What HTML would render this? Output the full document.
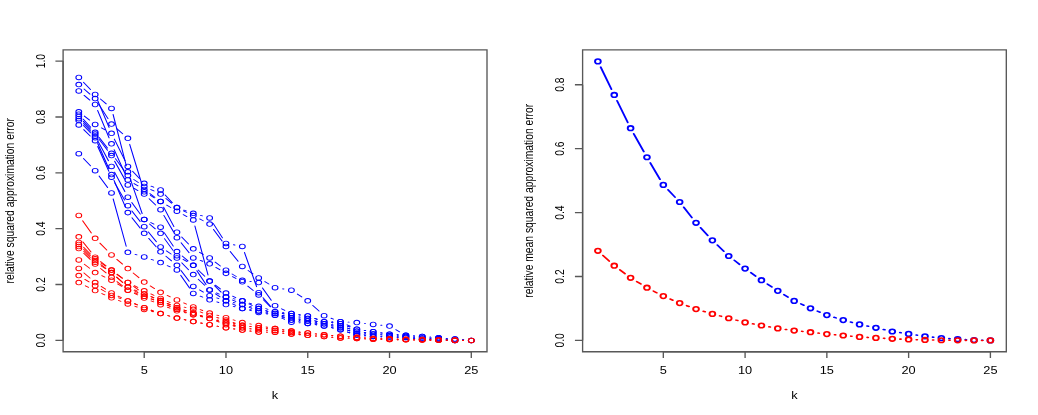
<!DOCTYPE html>
<html><head><meta charset="utf-8"><title>plot</title>
<style>
html,body{margin:0;padding:0;background:#fff;}
body{width:1038px;height:415px;overflow:hidden;}
svg{display:block;will-change:transform;}
text{font-family:"Liberation Sans",sans-serif;font-size:10px;fill:#000;}
</style></head><body>
<svg width="1038" height="415" viewBox="0 0 1038 415">
<rect width="1038" height="415" fill="#fff"/>
<g transform="scale(1.28,1.03)">
<rect x="49.3" y="48.35" width="331.17" height="293.16" fill="none" stroke="#585858" stroke-width="1.35" vector-effect="non-scaling-stroke"/>
<text x="112.67" y="362.72" text-anchor="middle">5</text>
<text x="176.55" y="362.72" text-anchor="middle">10</text>
<text x="240.43" y="362.72" text-anchor="middle">15</text>
<text x="304.32" y="362.72" text-anchor="middle">20</text>
<text x="368.2" y="362.72" text-anchor="middle">25</text>
<text transform="translate(34.9,330.49) rotate(-90)" text-anchor="middle">0.0</text>
<text transform="translate(34.9,276.25) rotate(-90)" text-anchor="middle">0.2</text>
<text transform="translate(34.9,222.02) rotate(-90)" text-anchor="middle">0.4</text>
<text transform="translate(34.9,167.79) rotate(-90)" text-anchor="middle">0.6</text>
<text transform="translate(34.9,113.55) rotate(-90)" text-anchor="middle">0.8</text>
<text transform="translate(34.9,59.32) rotate(-90)" text-anchor="middle">1.0</text>
<path d="M112.67 341.5v6M176.55 341.5v6M240.43 341.5v6M304.32 341.5v6M368.2 341.5v6M112.67 341.5H368.2M49.3 330.49h-6M49.3 276.25h-6M49.3 222.02h-6M49.3 167.79h-6M49.3 113.55h-6M49.3 59.32h-6M49.3 59.32V330.49" stroke="#585858" stroke-width="1.35" vector-effect="non-scaling-stroke" fill="none"/>
<text x="214.88" y="387.09" text-anchor="middle">k</text>
<text transform="translate(10.6,194.93) rotate(-90)" text-anchor="middle">relative squared approximation error</text>
<path d="M65.22 79.89L70.68 86.99M78.47 96.11L82.99 100.87M88.34 111.1L98.67 160.91M101.49 172.57L111.07 207.29M117.85 216.1L120.27 217.52M128.29 225.84L135.37 238.97M142.38 248.58L146.84 253.24M154.85 262.17L159.92 268.23M167.6 277.46L172.72 283.64M182.31 289.96L183.57 290.34M194.49 295.09L196.94 296.54M207.73 301.69L209.26 302.26M220.58 306.24L221.96 306.7M233.65 308.87L234.44 308.9M245.99 311.45L247.66 312.13M259.15 315.24L260.05 315.37M271.53 318.52L273.23 319.23M284.63 322.82L285.68 323.05M297.5 325.04L298.36 325.14M310.31 326.21L311.1 326.26M323.06 327.29L323.91 327.38M335.86 328.46L336.66 328.51M348.6 329.65L349.47 329.76M361.42 330.49L362.2 330.49" stroke="#0000ff" stroke-width="0.85" fill="none" stroke-linecap="round"/>
<g stroke="#0000ff" stroke-width="0.85" fill="none"><circle cx="61.56" cy="75.13" r="2.25"/><circle cx="74.34" cy="91.75" r="2.25"/><circle cx="87.12" cy="105.23" r="2.25"/><circle cx="99.89" cy="166.78" r="2.25"/><circle cx="112.67" cy="213.07" r="2.25"/><circle cx="125.45" cy="220.56" r="2.25"/><circle cx="138.22" cy="244.25" r="2.25"/><circle cx="151" cy="257.57" r="2.25"/><circle cx="163.78" cy="272.84" r="2.25"/><circle cx="176.55" cy="288.27" r="2.25"/><circle cx="189.33" cy="292.03" r="2.25"/><circle cx="202.1" cy="299.6" r="2.25"/><circle cx="214.88" cy="304.36" r="2.25"/><circle cx="227.66" cy="308.59" r="2.25"/><circle cx="240.43" cy="309.18" r="2.25"/><circle cx="253.21" cy="314.41" r="2.25"/><circle cx="265.99" cy="316.21" r="2.25"/><circle cx="278.76" cy="321.54" r="2.25"/><circle cx="291.54" cy="324.33" r="2.25"/><circle cx="304.32" cy="325.85" r="2.25"/><circle cx="317.09" cy="326.62" r="2.25"/><circle cx="329.87" cy="328.04" r="2.25"/><circle cx="342.65" cy="328.93" r="2.25"/><circle cx="355.42" cy="330.49" r="2.25"/><circle cx="368.2" cy="330.49" r="2.25"/></g>
<path d="M65.66 86.48L70.24 91.36M77.09 101.07L84.36 115.14M91.19 124.87L95.82 129.87M101.32 140.1L111.24 180.4M117.51 189.76L120.6 192.02M127.8 201.07L135.87 219.97M141.96 230.18L147.26 236.85M155.93 244.96L158.84 246.97M168.15 254.49L172.18 258.26M181.32 266.01L184.56 268.47M195.24 273.14L196.2 273.31M205.08 279.57L211.91 291.54M220.03 299.83L222.5 301.3M233.55 305.49L234.54 305.67M245.94 309.17L247.7 309.93M259.21 312.32L259.99 312.32M271.19 315.3L273.56 316.66M284.66 320.75L285.64 320.94M297.44 323.17L298.42 323.35M310.29 325L311.12 325.07M323.07 326.11L323.89 326.18M335.84 327.26L336.67 327.34M348.62 328.48L349.45 328.56M361.39 329.76L362.23 329.85" stroke="#0000ff" stroke-width="0.85" fill="none" stroke-linecap="round"/>
<g stroke="#0000ff" stroke-width="0.85" fill="none"><circle cx="61.56" cy="82.1" r="2.25"/><circle cx="74.34" cy="95.74" r="2.25"/><circle cx="87.12" cy="120.47" r="2.25"/><circle cx="99.89" cy="134.27" r="2.25"/><circle cx="112.67" cy="186.23" r="2.25"/><circle cx="125.45" cy="195.55" r="2.25"/><circle cx="138.22" cy="225.49" r="2.25"/><circle cx="151" cy="241.54" r="2.25"/><circle cx="163.78" cy="250.38" r="2.25"/><circle cx="176.55" cy="262.37" r="2.25"/><circle cx="189.33" cy="272.1" r="2.25"/><circle cx="202.1" cy="274.35" r="2.25"/><circle cx="214.88" cy="296.75" r="2.25"/><circle cx="227.66" cy="304.37" r="2.25"/><circle cx="240.43" cy="306.79" r="2.25"/><circle cx="253.21" cy="312.32" r="2.25"/><circle cx="265.99" cy="312.32" r="2.25"/><circle cx="278.76" cy="319.64" r="2.25"/><circle cx="291.54" cy="322.05" r="2.25"/><circle cx="304.32" cy="324.47" r="2.25"/><circle cx="317.09" cy="325.6" r="2.25"/><circle cx="329.87" cy="326.69" r="2.25"/><circle cx="342.65" cy="327.91" r="2.25"/><circle cx="355.42" cy="329.13" r="2.25"/><circle cx="368.2" cy="330.49" r="2.25"/></g>
<path d="M65.75 92.63L70.15 97.16M76.25 107.15L85.21 133.9M89.17 145.22L97.84 169.06M104.75 178.23L107.81 180.45M117.11 188L121 191.52M130.26 199.13L133.41 201.47M143.22 208.36L146 210.21M152.26 219.4L162.51 266.97M168.2 276.89L172.13 280.5M181.73 287.58L184.15 289M194.86 294.36L196.57 295.08M207.66 299.67L209.32 300.35M220.62 304.35L221.92 304.74M233.53 307.72L234.56 307.94M245.99 311.45L247.66 312.13M259.15 315.24L260.05 315.37M271.53 318.52L273.23 319.23M284.63 322.82L285.68 323.05M297.5 325.04L298.36 325.14M310.31 326.21L311.1 326.26M323.06 327.29L323.91 327.38M335.86 328.46L336.66 328.51M348.65 329.02L349.42 329.03M361.39 329.76L362.23 329.85" stroke="#0000ff" stroke-width="0.85" fill="none" stroke-linecap="round"/>
<g stroke="#0000ff" stroke-width="0.85" fill="none"><circle cx="61.56" cy="88.34" r="2.25"/><circle cx="74.34" cy="101.46" r="2.25"/><circle cx="87.12" cy="139.59" r="2.25"/><circle cx="99.89" cy="174.7" r="2.25"/><circle cx="112.67" cy="183.97" r="2.25"/><circle cx="125.45" cy="195.55" r="2.25"/><circle cx="138.22" cy="205.04" r="2.25"/><circle cx="151" cy="213.53" r="2.25"/><circle cx="163.78" cy="272.84" r="2.25"/><circle cx="176.55" cy="284.55" r="2.25"/><circle cx="189.33" cy="292.03" r="2.25"/><circle cx="202.1" cy="297.4" r="2.25"/><circle cx="214.88" cy="302.61" r="2.25"/><circle cx="227.66" cy="306.48" r="2.25"/><circle cx="240.43" cy="309.18" r="2.25"/><circle cx="253.21" cy="314.41" r="2.25"/><circle cx="265.99" cy="316.21" r="2.25"/><circle cx="278.76" cy="321.54" r="2.25"/><circle cx="291.54" cy="324.33" r="2.25"/><circle cx="304.32" cy="325.85" r="2.25"/><circle cx="317.09" cy="326.62" r="2.25"/><circle cx="329.87" cy="328.04" r="2.25"/><circle cx="342.65" cy="328.93" r="2.25"/><circle cx="355.42" cy="329.13" r="2.25"/></g>
<path d="M65.9 112.69L70 116.62M79.3 124.14L82.15 126.07M89.33 135.02L97.67 155.97M103.58 166.29L108.99 173.25M118.02 180.7L120.09 181.75M129.04 189.27L134.63 196.74M143.72 203.94L145.5 204.71M156.66 209.09L158.11 209.6M166.53 216.91L173.8 230.98M182.4 237.65L183.48 237.9M190.97 245.01L200.46 278.35M205.52 289.05L211.47 297.67M220.82 303.43L221.71 303.55M233.55 305.49L234.54 305.67M245.94 309.17L247.7 309.93M259.14 313.22L260.06 313.36M271.52 316.59L273.23 317.31M284.66 320.75L285.64 320.94M297.44 323.17L298.42 323.35M310.29 325L311.12 325.07M323.07 326.11L323.89 326.18M335.84 327.26L336.67 327.34M348.62 328.48L349.45 328.56" stroke="#0000ff" stroke-width="0.85" fill="none" stroke-linecap="round"/>
<g stroke="#0000ff" stroke-width="0.85" fill="none"><circle cx="61.56" cy="108.54" r="2.25"/><circle cx="74.34" cy="120.77" r="2.25"/><circle cx="87.12" cy="129.44" r="2.25"/><circle cx="99.89" cy="161.55" r="2.25"/><circle cx="112.67" cy="177.98" r="2.25"/><circle cx="125.45" cy="184.46" r="2.25"/><circle cx="138.22" cy="201.55" r="2.25"/><circle cx="151" cy="207.11" r="2.25"/><circle cx="163.78" cy="211.58" r="2.25"/><circle cx="176.55" cy="236.31" r="2.25"/><circle cx="189.33" cy="239.24" r="2.25"/><circle cx="202.1" cy="284.12" r="2.25"/><circle cx="214.88" cy="302.61" r="2.25"/><circle cx="227.66" cy="304.37" r="2.25"/><circle cx="240.43" cy="306.79" r="2.25"/><circle cx="253.21" cy="312.32" r="2.25"/><circle cx="265.99" cy="314.26" r="2.25"/><circle cx="278.76" cy="319.64" r="2.25"/><circle cx="291.54" cy="322.05" r="2.25"/><circle cx="304.32" cy="324.47" r="2.25"/><circle cx="317.09" cy="325.6" r="2.25"/><circle cx="329.87" cy="326.69" r="2.25"/><circle cx="342.65" cy="327.91" r="2.25"/></g>
<path d="M65.08 115.7L70.82 123.61M77.53 133.55L83.93 143.75M90.16 154L96.84 165.33M104.53 174.3L108.03 177.16M117.85 184L120.27 185.42M129.64 192.74L134.03 197.25M143.35 204.67L145.87 206.21M156.04 212.58L158.73 214.32M166.82 222.74L173.5 234.07M179.85 244.25L186.03 253.62M193.84 262.59L197.6 265.89M206.93 273.42L210.05 275.72M220.77 280.43L221.77 280.62M232.33 285.52L235.76 288.27M244.4 296.53L249.24 302.02M258.67 309L260.52 309.84M271.97 312.74L272.78 312.79M284.71 314.02L285.6 314.14M297.49 315.72L298.37 315.83M309.22 320.06L312.19 322.15" stroke="#0000ff" stroke-width="0.85" fill="none" stroke-linecap="round"/>
<g stroke="#0000ff" stroke-width="0.85" fill="none"><circle cx="61.56" cy="110.84" r="2.25"/><circle cx="74.34" cy="128.47" r="2.25"/><circle cx="87.12" cy="148.83" r="2.25"/><circle cx="99.89" cy="170.5" r="2.25"/><circle cx="112.67" cy="180.97" r="2.25"/><circle cx="125.45" cy="188.45" r="2.25"/><circle cx="138.22" cy="201.55" r="2.25"/><circle cx="151" cy="209.33" r="2.25"/><circle cx="163.78" cy="217.57" r="2.25"/><circle cx="176.55" cy="239.24" r="2.25"/><circle cx="189.33" cy="258.63" r="2.25"/><circle cx="202.1" cy="269.85" r="2.25"/><circle cx="214.88" cy="279.29" r="2.25"/><circle cx="227.66" cy="281.76" r="2.25"/><circle cx="240.43" cy="292.03" r="2.25"/><circle cx="253.21" cy="306.51" r="2.25"/><circle cx="265.99" cy="312.32" r="2.25"/><circle cx="278.76" cy="313.21" r="2.25"/><circle cx="291.54" cy="314.95" r="2.25"/><circle cx="304.32" cy="316.6" r="2.25"/></g>
<path d="M65.14 117.83L70.76 125.39M77.47 135.32L83.98 145.94M89.57 156.53L97.43 174.03M104.81 182.94L107.75 185.01M116.53 193.04L121.58 199.04M128 209.06L135.66 225.3M141.49 235.75L147.73 245.35M156.48 252.83L158.29 253.64M168.62 259.62L171.71 261.87M181.61 268.63L184.27 270.32M193.58 277.78L197.86 282.05M205.8 291.01L211.18 297.88M220.62 304.35L221.92 304.74M233.66 306.62L234.44 306.64M259.14 313.22L260.06 313.36M271.52 316.59L273.23 317.31" stroke="#0000ff" stroke-width="0.85" fill="none" stroke-linecap="round"/>
<g stroke="#0000ff" stroke-width="0.85" fill="none"><circle cx="61.56" cy="113.01" r="2.25"/><circle cx="74.34" cy="130.2" r="2.25"/><circle cx="87.12" cy="151.06" r="2.25"/><circle cx="99.89" cy="179.5" r="2.25"/><circle cx="112.67" cy="188.45" r="2.25"/><circle cx="125.45" cy="203.63" r="2.25"/><circle cx="138.22" cy="230.72" r="2.25"/><circle cx="151" cy="250.38" r="2.25"/><circle cx="163.78" cy="256.08" r="2.25"/><circle cx="176.55" cy="265.41" r="2.25"/><circle cx="189.33" cy="273.54" r="2.25"/><circle cx="202.1" cy="286.29" r="2.25"/><circle cx="227.66" cy="306.48" r="2.25"/><circle cx="265.99" cy="314.26" r="2.25"/></g>
<path d="M65.19 119.96L70.71 127.22M76.72 137.5L84.73 156.04M89.47 167.07L97.54 185.94M102.95 196.62L109.62 207.91M116.8 217.42L121.31 222.17M128.49 231.69L135.18 243.07M143.07 251.78L146.15 254.03M153.82 262.86L160.95 276.22M169.08 284.32L171.25 285.46M181.73 291.29L184.15 292.7M195.07 297.46L196.36 297.86M207.73 301.69L209.26 302.26M220.58 306.24L221.96 306.7M233.5 309.95L234.59 310.21M246.29 312.87L247.35 313.11M258.97 316.09L260.23 316.46M271.53 320.45L273.22 321.14M284.75 323.85L285.56 323.91M348.6 329.65L349.47 329.76M361.42 330.49L362.2 330.49" stroke="#0000ff" stroke-width="0.85" fill="none" stroke-linecap="round"/>
<g stroke="#0000ff" stroke-width="0.85" fill="none"><circle cx="61.56" cy="115.18" r="2.25"/><circle cx="74.34" cy="131.99" r="2.25"/><circle cx="87.12" cy="161.55" r="2.25"/><circle cx="99.89" cy="191.46" r="2.25"/><circle cx="112.67" cy="213.07" r="2.25"/><circle cx="125.45" cy="226.52" r="2.25"/><circle cx="138.22" cy="248.24" r="2.25"/><circle cx="151" cy="257.57" r="2.25"/><circle cx="163.78" cy="281.51" r="2.25"/><circle cx="176.55" cy="288.27" r="2.25"/><circle cx="189.33" cy="295.72" r="2.25"/><circle cx="202.1" cy="299.6" r="2.25"/><circle cx="214.88" cy="304.36" r="2.25"/><circle cx="227.66" cy="308.59" r="2.25"/><circle cx="240.43" cy="311.58" r="2.25"/><circle cx="265.99" cy="318.15" r="2.25"/><circle cx="278.76" cy="323.44" r="2.25"/><circle cx="355.42" cy="330.49" r="2.25"/></g>
<path d="M65.22 121.83L70.68 128.92M76.35 139.33L85.1 163.84M89.08 175.17L97.93 200.76M103.11 211.49L109.45 221.46M116.14 231.41L121.97 239.63M129.64 248.81L134.02 253.28M141.4 262.66L147.82 272.98M155.9 281.53L158.88 283.64M169.37 289.26L170.95 289.87M181.73 295.07L184.15 296.49M195.23 300.6L196.2 300.77M207.8 303.75L209.19 304.21M220.53 308.14L222.01 308.67M233.47 312.19L234.62 312.48M246.32 315.13L247.32 315.33M258.99 318.12L260.21 318.47M271.54 322.37L273.21 323.06M284.73 325.93L285.57 326.01M297.53 326.9L298.32 326.94M310.31 327.42L311.1 327.45M323.04 328.46L323.93 328.58M335.86 329.66L336.65 329.69M348.64 330.2L349.43 330.23" stroke="#0000ff" stroke-width="0.85" fill="none" stroke-linecap="round"/>
<g stroke="#0000ff" stroke-width="0.85" fill="none"><circle cx="61.56" cy="117.08" r="2.25"/><circle cx="74.34" cy="133.67" r="2.25"/><circle cx="87.12" cy="169.49" r="2.25"/><circle cx="99.89" cy="206.43" r="2.25"/><circle cx="112.67" cy="226.52" r="2.25"/><circle cx="125.45" cy="244.53" r="2.25"/><circle cx="138.22" cy="257.57" r="2.25"/><circle cx="151" cy="278.07" r="2.25"/><circle cx="163.78" cy="287.1" r="2.25"/><circle cx="176.55" cy="292.03" r="2.25"/><circle cx="189.33" cy="299.52" r="2.25"/><circle cx="202.1" cy="301.85" r="2.25"/><circle cx="214.88" cy="306.11" r="2.25"/><circle cx="227.66" cy="310.7" r="2.25"/><circle cx="240.43" cy="313.97" r="2.25"/><circle cx="253.21" cy="316.49" r="2.25"/><circle cx="265.99" cy="320.1" r="2.25"/><circle cx="278.76" cy="325.33" r="2.25"/><circle cx="291.54" cy="326.61" r="2.25"/><circle cx="304.32" cy="327.23" r="2.25"/><circle cx="317.09" cy="327.64" r="2.25"/><circle cx="329.87" cy="329.4" r="2.25"/><circle cx="342.65" cy="329.94" r="2.25"/></g>
<path d="M65.4 125.87L70.5 131.99M76.37 142.25L85.08 166.4M89.63 177.49L97.38 194.26M103.07 204.79L109.49 215.03M115.95 225.15L122.17 234.67M130.03 243.57L133.64 246.62M141.95 255.19L147.27 261.9M154.9 271.16L159.87 276.96M168.41 285.33L171.92 288.22M182.32 293.7L183.56 294.06M194.74 298.32L196.69 299.26M207.99 303.01L208.99 303.2M220.26 307.03L222.28 308.03M233.64 311.11L234.45 311.16M246.03 313.73L247.61 314.34M259.16 317.27L260.04 317.38M271.53 320.45L273.22 321.14M284.59 324.88L285.72 325.16M297.53 326.9L298.32 326.94M310.31 327.42L311.1 327.45M323.04 328.46L323.93 328.58M335.86 329.66L336.65 329.69M348.64 330.2L349.43 330.23" stroke="#0000ff" stroke-width="0.85" fill="none" stroke-linecap="round"/>
<g stroke="#0000ff" stroke-width="0.85" fill="none"><circle cx="61.56" cy="121.25" r="2.25"/><circle cx="74.34" cy="136.6" r="2.25"/><circle cx="87.12" cy="172.04" r="2.25"/><circle cx="99.89" cy="199.7" r="2.25"/><circle cx="112.67" cy="220.12" r="2.25"/><circle cx="125.45" cy="239.7" r="2.25"/><circle cx="138.22" cy="250.49" r="2.25"/><circle cx="151" cy="266.6" r="2.25"/><circle cx="163.78" cy="281.51" r="2.25"/><circle cx="176.55" cy="292.03" r="2.25"/><circle cx="189.33" cy="295.72" r="2.25"/><circle cx="202.1" cy="301.85" r="2.25"/><circle cx="227.66" cy="310.7" r="2.25"/><circle cx="240.43" cy="311.58" r="2.25"/><circle cx="253.21" cy="316.49" r="2.25"/><circle cx="265.99" cy="318.15" r="2.25"/><circle cx="278.76" cy="323.44" r="2.25"/><circle cx="291.54" cy="326.61" r="2.25"/><circle cx="304.32" cy="327.23" r="2.25"/><circle cx="317.09" cy="327.64" r="2.25"/><circle cx="329.87" cy="329.4" r="2.25"/><circle cx="342.65" cy="329.94" r="2.25"/></g>
<path d="M65.23 153.96L70.67 160.98M77.4 170.89L84.06 182.12M88.41 193.14L98.59 239.1M105.56 246.93L107 247.43M118.17 251.8L119.94 252.57M130.69 257.87L132.97 259.14M141.15 267.28L148.07 279.61M156.39 287.48L158.38 288.45M169.42 293.13L170.91 293.68M182.3 297.43L183.58 297.81M195.07 301.25L196.36 301.64M207.97 304.63L209.01 304.85M220.2 308.89L222.34 310.02M233.63 313.35L234.46 313.43M246.32 315.13L247.32 315.33M258.99 318.12L260.21 318.47M271.54 322.37L273.21 323.06M284.73 325.93L285.57 326.01" stroke="#0000ff" stroke-width="0.85" fill="none" stroke-linecap="round"/>
<g stroke="#0000ff" stroke-width="0.85" fill="none"><circle cx="61.56" cy="149.21" r="2.25"/><circle cx="74.34" cy="165.73" r="2.25"/><circle cx="87.12" cy="187.28" r="2.25"/><circle cx="99.89" cy="244.96" r="2.25"/><circle cx="112.67" cy="249.41" r="2.25"/><circle cx="125.45" cy="254.97" r="2.25"/><circle cx="138.22" cy="262.04" r="2.25"/><circle cx="151" cy="284.85" r="2.25"/><circle cx="163.78" cy="291.09" r="2.25"/><circle cx="176.55" cy="295.72" r="2.25"/><circle cx="189.33" cy="299.52" r="2.25"/><circle cx="202.1" cy="303.37" r="2.25"/><circle cx="214.88" cy="306.11" r="2.25"/><circle cx="227.66" cy="312.81" r="2.25"/><circle cx="240.43" cy="313.97" r="2.25"/><circle cx="265.99" cy="320.1" r="2.25"/><circle cx="278.76" cy="325.33" r="2.25"/></g>
<path d="M76.27 97.43L85.19 123.76" stroke="#0000ff" stroke-width="0.85" fill="none" stroke-linecap="round"/>
<path d="M64.55 214.34L71.35 226.15M78.06 236.05L83.39 242.8M91.29 251.82L95.72 256.38M104.06 265L108.5 269.58M117.4 277.58L120.71 280.16M130.64 286.85L133.03 288.24M143.52 294.07L145.7 295.23M156.44 300.58L158.33 301.46M169.44 305.96L170.89 306.47M182.18 310.51L183.7 311.06M195.17 314.49L196.26 314.75M207.95 317.45L209.03 317.7M220.78 320.16L221.76 320.34M233.6 322.31L234.5 322.44M246.38 324.12L247.27 324.24M259.18 325.7L260.02 325.78M271.97 326.93L272.79 327M284.74 328.01L285.56 328.08M297.54 328.78L298.32 328.8M310.31 329.18L311.1 329.21M323.09 329.53L323.87 329.54M335.87 329.8L336.65 329.82M348.65 330.07L349.42 330.09M361.42 330.34L362.2 330.36" stroke="#ff0000" stroke-width="0.85" fill="none" stroke-linecap="round"/>
<g stroke="#ff0000" stroke-width="0.85" fill="none"><circle cx="61.56" cy="209.14" r="2.25"/><circle cx="74.34" cy="231.35" r="2.25"/><circle cx="87.12" cy="247.51" r="2.25"/><circle cx="99.89" cy="260.69" r="2.25"/><circle cx="112.67" cy="273.89" r="2.25"/><circle cx="125.45" cy="283.85" r="2.25"/><circle cx="138.22" cy="291.25" r="2.25"/><circle cx="151" cy="298.05" r="2.25"/><circle cx="163.78" cy="303.99" r="2.25"/><circle cx="176.55" cy="308.44" r="2.25"/><circle cx="189.33" cy="313.13" r="2.25"/><circle cx="202.1" cy="316.11" r="2.25"/><circle cx="214.88" cy="319.04" r="2.25"/><circle cx="227.66" cy="321.46" r="2.25"/><circle cx="240.43" cy="323.3" r="2.25"/><circle cx="253.21" cy="325.06" r="2.25"/><circle cx="265.99" cy="326.42" r="2.25"/><circle cx="278.76" cy="327.5" r="2.25"/><circle cx="291.54" cy="328.59" r="2.25"/><circle cx="304.32" cy="328.99" r="2.25"/><circle cx="317.09" cy="329.4" r="2.25"/><circle cx="329.87" cy="329.67" r="2.25"/><circle cx="342.65" cy="329.94" r="2.25"/><circle cx="355.42" cy="330.21" r="2.25"/><circle cx="368.2" cy="330.49" r="2.25"/></g>
<path d="M64.82 234.92L71.09 244.64M78.62 253.88L82.84 258.03M91.5 266.33L95.51 270.07M104.95 277.39L107.61 279.1M117.85 285.36L120.27 286.78M130.76 292.6L132.91 293.72M143.97 298.22L145.25 298.6M156.44 302.82L158.33 303.7M169.43 308.23L170.9 308.76M182.13 312.99L183.75 313.63M195.22 316.97L196.21 317.16M208.09 318.64L208.89 318.69M220.78 320.16L221.76 320.34M233.6 322.31L234.5 322.44M246.38 324.12L247.27 324.24M259.18 325.7L260.02 325.78M271.97 326.93L272.79 327M284.74 328.01L285.56 328.08M297.54 328.78L298.32 328.8M310.31 329.18L311.1 329.21M323.09 329.53L323.87 329.54M335.87 329.8L336.65 329.82M348.65 330.07L349.42 330.09M361.42 330.34L362.2 330.36" stroke="#ff0000" stroke-width="0.85" fill="none" stroke-linecap="round"/>
<g stroke="#ff0000" stroke-width="0.85" fill="none"><circle cx="61.56" cy="229.88" r="2.25"/><circle cx="74.34" cy="249.68" r="2.25"/><circle cx="87.12" cy="262.23" r="2.25"/><circle cx="99.89" cy="274.16" r="2.25"/><circle cx="112.67" cy="282.33" r="2.25"/><circle cx="125.45" cy="289.81" r="2.25"/><circle cx="138.22" cy="296.51" r="2.25"/><circle cx="151" cy="300.3" r="2.25"/><circle cx="163.78" cy="306.22" r="2.25"/><circle cx="176.55" cy="310.77" r="2.25"/><circle cx="189.33" cy="315.84" r="2.25"/><circle cx="202.1" cy="318.28" r="2.25"/><circle cx="214.88" cy="319.04" r="2.25"/><circle cx="227.66" cy="321.46" r="2.25"/><circle cx="240.43" cy="323.3" r="2.25"/><circle cx="253.21" cy="325.06" r="2.25"/><circle cx="265.99" cy="326.42" r="2.25"/><circle cx="278.76" cy="327.5" r="2.25"/><circle cx="291.54" cy="328.59" r="2.25"/><circle cx="304.32" cy="328.99" r="2.25"/><circle cx="317.09" cy="329.4" r="2.25"/><circle cx="329.87" cy="329.67" r="2.25"/><circle cx="342.65" cy="329.94" r="2.25"/><circle cx="355.42" cy="330.21" r="2.25"/><circle cx="368.2" cy="330.49" r="2.25"/></g>
<path d="M65.33 240.11L70.58 246.63M78.9 255.21L82.56 258.33M91.5 266.33L95.51 270.07M104.41 278.11L108.15 281.39M118.03 288.03L120.09 289.07M130.71 294.64L132.96 295.88M143.77 301.03L145.45 301.72M156.55 306.27L158.22 306.95M169.62 310.6L170.71 310.86M182.33 313.87L183.55 314.21M195.22 316.97L196.21 317.16M208.09 318.64L208.89 318.69" stroke="#ff0000" stroke-width="0.85" fill="none" stroke-linecap="round"/>
<g stroke="#ff0000" stroke-width="0.85" fill="none"><circle cx="61.56" cy="235.44" r="2.25"/><circle cx="74.34" cy="251.31" r="2.25"/><circle cx="87.12" cy="262.23" r="2.25"/><circle cx="99.89" cy="274.16" r="2.25"/><circle cx="112.67" cy="285.34" r="2.25"/><circle cx="125.45" cy="291.76" r="2.25"/><circle cx="138.22" cy="298.76" r="2.25"/><circle cx="151" cy="303.99" r="2.25"/><circle cx="163.78" cy="309.23" r="2.25"/><circle cx="176.55" cy="312.24" r="2.25"/><circle cx="189.33" cy="315.84" r="2.25"/><circle cx="202.1" cy="318.28" r="2.25"/></g>
<path d="M65.37 242.01L70.53 248.29M78.77 256.98L82.68 260.55M91.14 269.04L95.86 274.25M105.22 281.46L107.35 282.57M118.03 288.03L120.09 289.07M130.71 294.64L132.96 295.88M143.77 301.03L145.45 301.72M156.55 306.27L158.22 306.95M169.44 311.2L170.89 311.7M182.47 314.68L183.41 314.84" stroke="#ff0000" stroke-width="0.85" fill="none" stroke-linecap="round"/>
<g stroke="#ff0000" stroke-width="0.85" fill="none"><circle cx="61.56" cy="237.37" r="2.25"/><circle cx="74.34" cy="252.93" r="2.25"/><circle cx="87.12" cy="264.59" r="2.25"/><circle cx="99.89" cy="278.69" r="2.25"/><circle cx="112.67" cy="285.34" r="2.25"/><circle cx="125.45" cy="291.76" r="2.25"/><circle cx="138.22" cy="298.76" r="2.25"/><circle cx="151" cy="303.99" r="2.25"/><circle cx="163.78" cy="309.23" r="2.25"/><circle cx="176.55" cy="313.67" r="2.25"/></g>
<path d="M65.42 243.92L70.48 249.96M79.06 258.26L82.4 260.89M91.14 269.04L95.86 274.25M104.81 282.13L107.75 284.2M118.12 290.14L119.99 291M130.74 296.32L132.93 297.48M143.77 302.58L145.45 303.26M156.76 307.2L158.01 307.56M169.44 311.2L170.89 311.7M182.2 315.71L183.68 316.25M195.26 319.16L196.17 319.3M208.1 320.47L208.89 320.51M220.8 321.77L221.74 321.93M233.65 323.09L234.44 323.12" stroke="#ff0000" stroke-width="0.85" fill="none" stroke-linecap="round"/>
<g stroke="#ff0000" stroke-width="0.85" fill="none"><circle cx="61.56" cy="239.32" r="2.25"/><circle cx="74.34" cy="254.56" r="2.25"/><circle cx="87.12" cy="264.59" r="2.25"/><circle cx="99.89" cy="278.69" r="2.25"/><circle cx="112.67" cy="287.64" r="2.25"/><circle cx="125.45" cy="293.5" r="2.25"/><circle cx="138.22" cy="300.3" r="2.25"/><circle cx="151" cy="305.54" r="2.25"/><circle cx="176.55" cy="313.67" r="2.25"/><circle cx="189.33" cy="318.28" r="2.25"/><circle cx="202.1" cy="320.18" r="2.25"/><circle cx="214.88" cy="320.79" r="2.25"/><circle cx="227.66" cy="322.91" r="2.25"/></g>
<path d="M65.43 245.86L70.47 251.82M78.58 260.65L82.88 264.96M91.41 273.39L95.6 277.48M105.33 284.21L107.23 285.1M118.12 290.14L119.99 291M130.74 296.32L132.93 297.48M143.77 302.58L145.45 303.26M156.76 307.2L158.01 307.56M182.2 315.71L183.68 316.25M195.26 319.16L196.17 319.3M208.1 320.47L208.89 320.51M220.8 321.77L221.74 321.93M233.53 324.15L234.56 324.36M246.41 326.16L247.24 326.24M259.18 327.38L260.02 327.46M271.98 328.3L272.77 328.33M284.75 328.97L285.55 329.02M297.54 329.53L298.32 329.54M310.32 329.8L311.1 329.82M323.09 330.07L323.87 330.09M335.87 330.28L336.65 330.29M348.65 330.41L349.42 330.42M361.42 330.49L362.2 330.49" stroke="#ff0000" stroke-width="0.85" fill="none" stroke-linecap="round"/>
<g stroke="#ff0000" stroke-width="0.85" fill="none"><circle cx="61.56" cy="241.27" r="2.25"/><circle cx="74.34" cy="256.4" r="2.25"/><circle cx="87.12" cy="269.2" r="2.25"/><circle cx="99.89" cy="281.68" r="2.25"/><circle cx="112.67" cy="287.64" r="2.25"/><circle cx="125.45" cy="293.5" r="2.25"/><circle cx="138.22" cy="300.3" r="2.25"/><circle cx="151" cy="305.54" r="2.25"/><circle cx="189.33" cy="318.28" r="2.25"/><circle cx="202.1" cy="320.18" r="2.25"/><circle cx="214.88" cy="320.79" r="2.25"/><circle cx="227.66" cy="322.91" r="2.25"/><circle cx="240.43" cy="325.6" r="2.25"/><circle cx="253.21" cy="326.8" r="2.25"/><circle cx="265.99" cy="328.04" r="2.25"/><circle cx="278.76" cy="328.59" r="2.25"/><circle cx="291.54" cy="329.4" r="2.25"/><circle cx="304.32" cy="329.67" r="2.25"/><circle cx="317.09" cy="329.94" r="2.25"/><circle cx="329.87" cy="330.21" r="2.25"/><circle cx="342.65" cy="330.35" r="2.25"/><circle cx="355.42" cy="330.49" r="2.25"/></g>
<path d="M65.91 256.53L70 260.43M79.52 267.59L81.93 269M91.9 275.64L95.1 278.06M105.03 284.78L107.53 286.3M118.04 292.08L120.08 293.1M130.88 298.31L132.79 299.2M143.97 303.45L145.25 303.83M169.2 311.78L171.12 312.69M182.39 316.63L183.49 316.9M233.53 324.15L234.56 324.36M246.41 326.16L247.24 326.24M259.18 327.38L260.02 327.46M271.98 328.3L272.77 328.33M284.75 328.97L285.55 329.02M297.54 329.53L298.32 329.54M310.32 329.8L311.1 329.82M323.09 330.07L323.87 330.09M335.87 330.28L336.65 330.29M348.65 330.41L349.42 330.42M361.42 330.49L362.2 330.49" stroke="#ff0000" stroke-width="0.85" fill="none" stroke-linecap="round"/>
<g stroke="#ff0000" stroke-width="0.85" fill="none"><circle cx="61.56" cy="252.39" r="2.25"/><circle cx="74.34" cy="264.57" r="2.25"/><circle cx="87.12" cy="272.02" r="2.25"/><circle cx="99.89" cy="281.68" r="2.25"/><circle cx="112.67" cy="289.4" r="2.25"/><circle cx="125.45" cy="295.78" r="2.25"/><circle cx="138.22" cy="301.74" r="2.25"/><circle cx="176.55" cy="315.25" r="2.25"/><circle cx="240.43" cy="325.6" r="2.25"/><circle cx="253.21" cy="326.8" r="2.25"/><circle cx="265.99" cy="328.04" r="2.25"/><circle cx="278.76" cy="328.59" r="2.25"/><circle cx="291.54" cy="329.4" r="2.25"/><circle cx="304.32" cy="329.67" r="2.25"/><circle cx="317.09" cy="329.94" r="2.25"/><circle cx="329.87" cy="330.21" r="2.25"/><circle cx="342.65" cy="330.35" r="2.25"/><circle cx="355.42" cy="330.49" r="2.25"/></g>
<path d="M65.64 264.98L70.26 269.96M79.04 278.08L82.41 280.74M92.26 287.56L94.75 289.05M105.22 294.9L107.34 296M118.15 301.2L119.96 302.01M131.13 306.38L132.54 306.86M144.02 310.35L145.21 310.67M156.84 313.61L157.93 313.87M169.62 316.62L170.71 316.88M182.46 319.27L183.41 319.44M195.26 321.33L196.17 321.47M208.1 322.44L208.88 322.45M220.82 323.38L221.72 323.51M233.63 324.94L234.46 325.02" stroke="#ff0000" stroke-width="0.85" fill="none" stroke-linecap="round"/>
<g stroke="#ff0000" stroke-width="0.85" fill="none"><circle cx="61.56" cy="260.58" r="2.25"/><circle cx="74.34" cy="274.35" r="2.25"/><circle cx="87.12" cy="284.47" r="2.25"/><circle cx="99.89" cy="292.14" r="2.25"/><circle cx="112.67" cy="298.76" r="2.25"/><circle cx="125.45" cy="304.45" r="2.25"/><circle cx="138.22" cy="308.79" r="2.25"/><circle cx="151" cy="312.24" r="2.25"/><circle cx="163.78" cy="315.25" r="2.25"/><circle cx="176.55" cy="318.26" r="2.25"/><circle cx="189.33" cy="320.45" r="2.25"/><circle cx="202.1" cy="322.35" r="2.25"/><circle cx="214.88" cy="322.54" r="2.25"/><circle cx="227.66" cy="324.36" r="2.25"/></g>
<path d="M66.33 271.22L69.57 273.69M79.16 280.91L82.3 283.25M92.66 289.13L94.35 289.84M105.22 294.9L107.34 296M118.15 301.2L119.96 302.01M131.13 306.38L132.54 306.86M144.02 310.35L145.21 310.67M156.84 313.61L157.93 313.87M169.62 316.62L170.71 316.88M182.46 319.27L183.41 319.44M195.26 321.33L196.17 321.47M208.1 322.44L208.88 322.45M220.82 323.38L221.72 323.51M233.63 324.94L234.46 325.02" stroke="#ff0000" stroke-width="0.85" fill="none" stroke-linecap="round"/>
<g stroke="#ff0000" stroke-width="0.85" fill="none"><circle cx="61.56" cy="267.58" r="2.25"/><circle cx="74.34" cy="277.34" r="2.25"/><circle cx="87.12" cy="286.83" r="2.25"/><circle cx="99.89" cy="292.14" r="2.25"/><circle cx="112.67" cy="298.76" r="2.25"/><circle cx="125.45" cy="304.45" r="2.25"/><circle cx="138.22" cy="308.79" r="2.25"/><circle cx="151" cy="312.24" r="2.25"/><circle cx="163.78" cy="315.25" r="2.25"/><circle cx="176.55" cy="318.26" r="2.25"/><circle cx="189.33" cy="320.45" r="2.25"/><circle cx="202.1" cy="322.35" r="2.25"/><circle cx="214.88" cy="322.54" r="2.25"/><circle cx="227.66" cy="324.36" r="2.25"/></g>
<path d="M66.7 277.45L69.2 278.96M79.59 284.96L81.87 286.23M92.56 291.65L94.45 292.52M105.43 297.36L107.13 298.07M118.39 302.21L119.73 302.63" stroke="#ff0000" stroke-width="0.85" fill="none" stroke-linecap="round"/>
<g stroke="#ff0000" stroke-width="0.85" fill="none"><circle cx="61.56" cy="274.35" r="2.25"/><circle cx="74.34" cy="282.06" r="2.25"/><circle cx="87.12" cy="289.13" r="2.25"/><circle cx="99.89" cy="295.04" r="2.25"/><circle cx="112.67" cy="300.39" r="2.25"/></g>
<rect x="455.16" y="48.35" width="331.02" height="293.16" fill="none" stroke="#585858" stroke-width="1.35" vector-effect="non-scaling-stroke"/>
<text x="518.22" y="362.72" text-anchor="middle">5</text>
<text x="582.1" y="362.72" text-anchor="middle">10</text>
<text x="645.98" y="362.72" text-anchor="middle">15</text>
<text x="709.86" y="362.72" text-anchor="middle">20</text>
<text x="773.75" y="362.72" text-anchor="middle">25</text>
<text transform="translate(440.76,330.49) rotate(-90)" text-anchor="middle">0.0</text>
<text transform="translate(440.76,268.43) rotate(-90)" text-anchor="middle">0.2</text>
<text transform="translate(440.76,206.37) rotate(-90)" text-anchor="middle">0.4</text>
<text transform="translate(440.76,144.31) rotate(-90)" text-anchor="middle">0.6</text>
<text transform="translate(440.76,82.25) rotate(-90)" text-anchor="middle">0.8</text>
<path d="M518.22 341.5v6M582.1 341.5v6M645.98 341.5v6M709.86 341.5v6M773.75 341.5v6M518.22 341.5H773.75M455.16 330.49h-6M455.16 268.43h-6M455.16 206.37h-6M455.16 144.31h-6M455.16 82.25h-6M455.16 82.25V330.49" stroke="#585858" stroke-width="1.35" vector-effect="non-scaling-stroke" fill="none"/>
<text x="620.66" y="387.09" text-anchor="middle">k</text>
<text transform="translate(416.46,194.93) rotate(-90)" text-anchor="middle">relative mean squared approximation error</text>
<path d="M469.3 65.19L477.7 86.6M482.09 97.76L490.45 118.87M495.14 129.92L502.97 147.22M508.02 158.1L515.63 174.08M521.87 184.26L527.34 191.37M534.2 201.2L540.56 211.23M547.36 221.1L552.95 228.56M560.41 237.96L565.46 243.98M573.66 252.71L577.76 256.62M586.6 264.73L590.37 268.06M599.53 275.81L602.99 278.61M612.42 286.03L615.66 288.5M625.66 295.08L627.98 296.39M638.54 302.08L640.65 303.16M651.59 308.05L653.15 308.64M664.46 312.65L665.83 313.1M677.34 316.47L678.5 316.76M690.09 319.87L691.31 320.21M702.99 322.92L703.96 323.1M715.77 325.26L716.74 325.44M728.59 327.32L729.47 327.44M741.4 328.75L742.21 328.81M754.18 329.71L754.98 329.77M766.97 330.32L767.75 330.34" stroke="#0000ff" stroke-width="1.5" fill="none" stroke-linecap="round"/>
<g stroke="#0000ff" stroke-width="1.5" fill="none"><circle cx="467.11" cy="59.6" r="2.25"/><circle cx="479.89" cy="92.18" r="2.25"/><circle cx="492.66" cy="124.45" r="2.25"/><circle cx="505.44" cy="152.69" r="2.25"/><circle cx="518.22" cy="179.5" r="2.25"/><circle cx="530.99" cy="196.13" r="2.25"/><circle cx="543.77" cy="216.3" r="2.25"/><circle cx="556.55" cy="233.36" r="2.25"/><circle cx="569.32" cy="248.57" r="2.25"/><circle cx="582.1" cy="260.76" r="2.25"/><circle cx="594.87" cy="272.03" r="2.25"/><circle cx="607.65" cy="282.39" r="2.25"/><circle cx="620.43" cy="292.13" r="2.25"/><circle cx="633.2" cy="299.33" r="2.25"/><circle cx="645.98" cy="305.91" r="2.25"/><circle cx="658.76" cy="310.78" r="2.25"/><circle cx="671.53" cy="314.97" r="2.25"/><circle cx="684.31" cy="318.26" r="2.25"/><circle cx="697.09" cy="321.83" r="2.25"/><circle cx="709.86" cy="324.19" r="2.25"/><circle cx="722.64" cy="326.51" r="2.25"/><circle cx="735.42" cy="328.25" r="2.25"/><circle cx="748.19" cy="329.31" r="2.25"/><circle cx="760.97" cy="330.18" r="2.25"/><circle cx="773.75" cy="330.49" r="2.25"/></g>
<path d="M471.08 248.01L475.91 253.47M484.31 262.03L488.24 265.64M497.46 273.31L500.65 275.71M510.5 282.55L513.16 284.25M523.51 290.3L525.69 291.46M536.45 296.77L538.31 297.62M549.41 302.16L550.91 302.71M562.24 306.66L563.63 307.12M575.05 310.81L576.37 311.22M587.94 314.39L589.03 314.65M600.73 317.32L601.79 317.55M613.57 319.83L614.51 319.98M626.38 321.68L627.25 321.79M639.14 323.38L640.04 323.51M651.95 325.01L652.79 325.1M664.73 326.36L665.57 326.45M677.52 327.54L678.33 327.6M690.3 328.47L691.1 328.53M703.08 329.23L703.87 329.26M715.86 329.77L716.64 329.8M728.64 330.17L729.42 330.18M741.42 330.36L742.19 330.36M754.19 330.44L754.97 330.44M766.97 330.49L767.75 330.49" stroke="#ff0000" stroke-width="1.5" fill="none" stroke-linecap="round"/>
<g stroke="#ff0000" stroke-width="1.5" fill="none"><circle cx="467.11" cy="243.51" r="2.25"/><circle cx="479.89" cy="257.97" r="2.25"/><circle cx="492.66" cy="269.7" r="2.25"/><circle cx="505.44" cy="279.32" r="2.25"/><circle cx="518.22" cy="287.48" r="2.25"/><circle cx="530.99" cy="294.27" r="2.25"/><circle cx="543.77" cy="300.11" r="2.25"/><circle cx="556.55" cy="304.76" r="2.25"/><circle cx="569.32" cy="309.01" r="2.25"/><circle cx="582.1" cy="313.02" r="2.25"/><circle cx="594.87" cy="316.03" r="2.25"/><circle cx="607.65" cy="318.85" r="2.25"/><circle cx="620.43" cy="320.96" r="2.25"/><circle cx="633.2" cy="322.51" r="2.25"/><circle cx="645.98" cy="324.37" r="2.25"/><circle cx="658.76" cy="325.74" r="2.25"/><circle cx="671.53" cy="327.07" r="2.25"/><circle cx="684.31" cy="328.07" r="2.25"/><circle cx="697.09" cy="328.93" r="2.25"/><circle cx="709.86" cy="329.55" r="2.25"/><circle cx="722.64" cy="330.02" r="2.25"/><circle cx="735.42" cy="330.33" r="2.25"/><circle cx="748.19" cy="330.39" r="2.25"/><circle cx="760.97" cy="330.49" r="2.25"/><circle cx="773.75" cy="330.49" r="2.25"/></g>
</g>
</svg>
</body></html>
